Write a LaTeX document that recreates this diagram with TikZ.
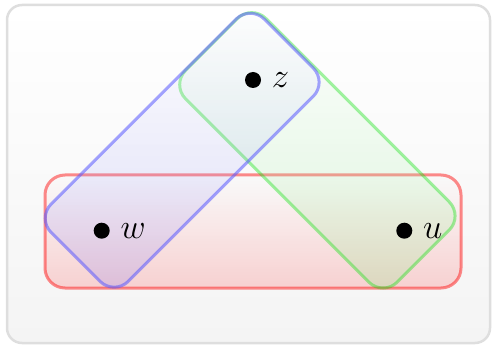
\documentclass[tikz,border=0pt]{standalone}
\usepackage{xcolor}
\definecolor{cRed}{RGB}{255,0,0}
\definecolor{cBlue}{RGB}{90,90,255}
\definecolor{cGreen}{RGB}{0,225,0}
\definecolor{cFrame}{RGB}{222,222,222}
\definecolor{cBack}{RGB}{244,244,244}
\usepackage{tikz}
\pgfdeclarelayer{background}
\pgfsetlayers{background, main}
\usetikzlibrary{positioning, calc}

\begin{document}
\begin{tikzpicture}[x=0.5pt, y=-0.5pt,
    vtx/.style={circle, fill=black, inner sep=0pt, minimum size=8pt},
    lbl/.style={label distance=4pt, inner sep=1pt, font=\fontsize{16}{19}\selectfont},
    hedge/.style={line width=1.5pt, rounded corners=10pt, top color=white},
    hred/.style={hedge, draw=cRed, draw opacity=0.45,
      bottom color=cRed, fill opacity=0.15},
    hblue/.style={hedge, draw=cBlue, draw opacity=0.55,
      bottom color=cBlue, fill opacity=0.16},
    hgreen/.style={hedge, draw=cGreen, draw opacity=0.36,
      bottom color=cGreen!55!white, fill opacity=0.2}]
    \useasboundingbox (0,0) rectangle (492,347);

    % ---------- vertices ----------
    \node[vtx, label={[lbl]right:$z$}] (z) at (253,80) {};
    \node[vtx, label={[lbl]right:$w$}] (w) at (101.7,230.7) {};
    \node[vtx, label={[lbl]right:$u$}] (u) at (404.3,230.7) {};

    \begin{pgfonlayer}{background}
    % ---------- frame ----------
    \draw[cFrame, line width=1.25pt, rounded corners=7.5pt, top color=white,
      bottom color=cBack] (7,5) rectangle (490,343);

    % ---------- hyperedges ----------
    \draw[hred] (45,175) rectangle (461,288);
    \begin{scope}[shift={(z)}, rotate=-45]
      \draw[hgreen] (-54.4,-52.6) rectangle (244.9,61);
    \end{scope}
    \begin{scope}[shift={(w)}, rotate=45]
      \draw[hblue] (-37,-54.6) rectangle (264.6,54.6);
    \end{scope}
    \end{pgfonlayer}
\end{tikzpicture}
\end{document}
